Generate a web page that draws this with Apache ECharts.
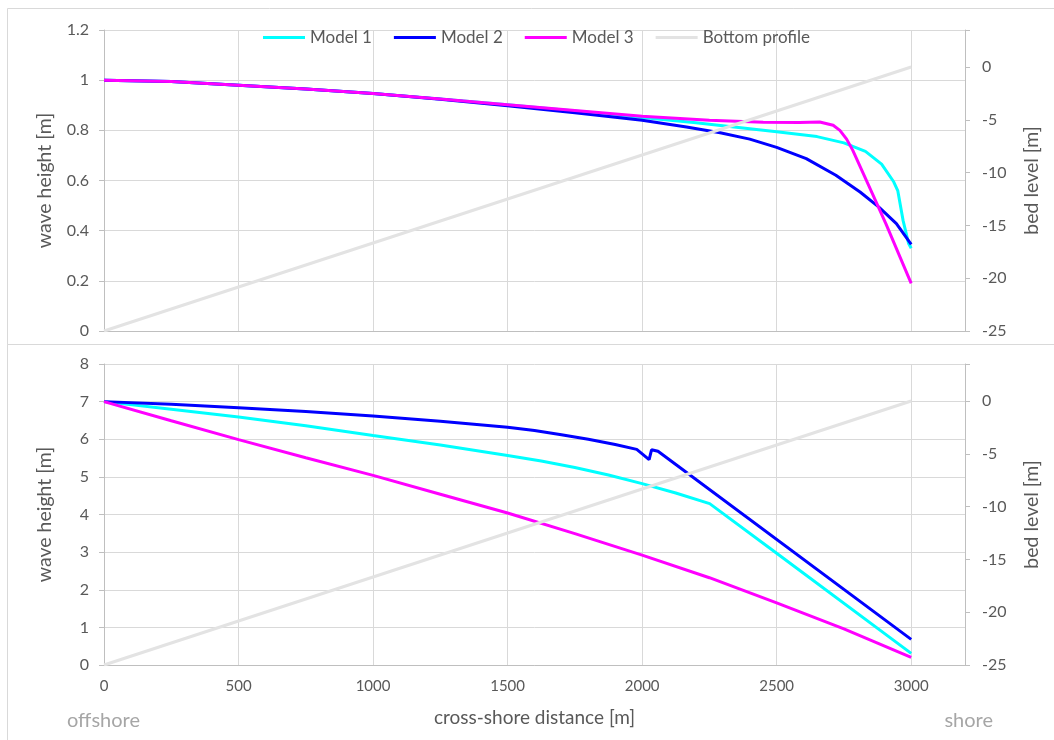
<!DOCTYPE html>
<html>
<head>
<meta charset="utf-8">
<script src="https://cdn.jsdelivr.net/npm/echarts@6/dist/echarts.min.js"></script>
<style>
html,body{margin:0;padding:0;background:#fff;}
#chart{width:1054px;height:740px;}
</style>
</head>
<body>
<div id="chart"></div>
<script>
// ---------- DATA ----------
const seriesNames = ['Model 1', 'Model 2', 'Model 3', 'Bottom profile'];
const xTicks = [0, 500, 1000, 1500, 2000, 2500, 3000];

// Top panel (wave height, m)
const topM1x = [0, 250, 500, 750, 1000, 1250, 1500, 1750, 2000, 2200, 2350, 2500, 2650, 2750, 2830, 2890, 2935, 2950, 2970, 2990, 3000];
const topM1y = [1.0, 0.995, 0.98, 0.965, 0.947, 0.925, 0.902, 0.877, 0.851, 0.83, 0.812, 0.794, 0.775, 0.75, 0.716, 0.665, 0.595, 0.56, 0.44, 0.35, 0.33];
const topM2x = [0, 250, 500, 750, 1000, 1250, 1500, 1750, 2000, 2165, 2290, 2400, 2500, 2610, 2720, 2810, 2880, 2945, 3000];
const topM2y = [1.0, 0.995, 0.98, 0.965, 0.947, 0.924, 0.898, 0.87, 0.84, 0.813, 0.79, 0.765, 0.732, 0.687, 0.621, 0.554, 0.494, 0.428, 0.345];
const topM3x = [0, 250, 500, 750, 1000, 1250, 1500, 1750, 2000, 2250, 2450, 2585, 2660, 2710, 2735, 2760, 2783, 2857, 2907, 3000];
const topM3y = [1.0, 0.995, 0.98, 0.965, 0.947, 0.925, 0.902, 0.879, 0.856, 0.84, 0.832, 0.831, 0.833, 0.82, 0.80, 0.765, 0.72, 0.545, 0.425, 0.19];

// Bottom panel (wave height, m)
const botM1x = [0, 250, 500, 750, 1000, 1250, 1500, 1625, 1750, 1875, 2000, 2125, 2251, 2500, 3000];
const botM1y = [7.0, 6.8, 6.59, 6.36, 6.10, 5.85, 5.57, 5.42, 5.25, 5.05, 4.82, 4.57, 4.29, 2.97, 0.31];
const botM2x = [0, 250, 500, 750, 1000, 1250, 1500, 1600, 1700, 1800, 1900, 1980, 2026, 2035, 2059, 3000];
const botM2y = [7.0, 6.93, 6.84, 6.74, 6.62, 6.48, 6.32, 6.23, 6.12, 6.0, 5.86, 5.73, 5.46, 5.72, 5.68, 0.68];
const botM3x = [0, 250, 500, 750, 1000, 1250, 1500, 1750, 2000, 2250, 2500, 2750, 3000];
const botM3y = [7.0, 6.49, 5.99, 5.51, 5.04, 4.54, 4.04, 3.49, 2.92, 2.32, 1.65, 0.96, 0.2];

// Bottom profile (bed level, m)
const profX = [0, 3000];
const profY = [-25, 0];

// ---------- CHART ----------
const zip = (xs, ys) => xs.map((x, i) => [x, ys[i]]);
const FONT = 'Lato';
const TXT = '#595959';
const GRID = '#d9d9d9';
const AXIS = '#bfbfbf';
const colors = {'Model 1': '#00ffff', 'Model 2': '#0000ff', 'Model 3': '#ff00ff', 'Bottom profile': '#e3e3e3'};

function xAxisCfg(gridIndex, showLabels) {
  return {
    type: 'value', gridIndex, min: 0, max: 3200, interval: 500,
    axisLine: {show: true, lineStyle: {color: AXIS, width: 1}},
    axisTick: {show: false},
    splitLine: {show: true, lineStyle: {color: GRID, width: 1}},
    axisLabel: {show: showLabels, color: TXT, fontFamily: FONT, fontSize: 15, margin: 14,
      formatter: v => xTicks.includes(v) ? String(v) : ''},
    name: showLabels ? 'cross-shore distance [m]' : '',
    nameLocation: 'middle', nameGap: 43,
    nameTextStyle: {color: TXT, fontFamily: FONT, fontSize: 19}
  };
}
function leftAxisCfg(gridIndex, max, interval, fmt) {
  return {
    type: 'value', gridIndex, position: 'left', min: 0, max, interval,
    axisLine: {show: true, onZero: false, lineStyle: {color: AXIS}},
    axisTick: {show: true, inside: false, length: 5, lineStyle: {color: AXIS}},
    splitLine: {show: true, lineStyle: {color: GRID, width: 1}},
    axisLabel: {color: TXT, fontFamily: FONT, fontSize: 16, margin: 15, formatter: fmt},
    name: 'wave height [m]', nameLocation: 'middle', nameGap: 49, nameRotate: 90,
    nameTextStyle: {color: TXT, fontFamily: FONT, fontSize: 19.5}
  };
}
function rightAxisCfg(gridIndex) {
  return {
    type: 'value', gridIndex, position: 'right', min: -25, max: 3.5, interval: 5,
    axisLine: {show: true, onZero: false, lineStyle: {color: AXIS}},
    axisTick: {show: true, inside: false, length: 5, lineStyle: {color: AXIS}},
    splitLine: {show: false},
    axisLabel: {color: TXT, fontFamily: FONT, fontSize: 16, margin: 17,
      formatter: v => (v % 5 === 0) ? String(v) : ''},
    name: 'bed level [m]', nameLocation: 'middle', nameGap: 57, nameRotate: 90,
    nameTextStyle: {color: TXT, fontFamily: FONT, fontSize: 19.5}
  };
}
function lineSeries(name, xi, yi, data, z) {
  return {
    name, type: 'line', xAxisIndex: xi, yAxisIndex: yi, data,
    showSymbol: false, symbol: 'none', smooth: false, z: z || 2,
    lineStyle: {color: colors[name], width: 3},
    itemStyle: {color: colors[name]},
    animation: false
  };
}

const chart = echarts.init(document.getElementById('chart'), null, {renderer: 'canvas'});
chart.setOption({
  backgroundColor: '#ffffff',
  animation: false,
  textStyle: {fontFamily: FONT},
  grid: [
    {left: 104, top: 30, width: 861, height: 301},
    {left: 104, top: 364, width: 861, height: 301}
  ],
  legend: {
    data: seriesNames, left: 263, top: 29, padding: 0, itemWidth: 42, itemHeight: 3, itemGap: 22,
    icon: 'rect', textStyle: {color: TXT, fontFamily: FONT, fontSize: 17}
  },
  xAxis: [xAxisCfg(0, false), xAxisCfg(1, true)],
  yAxis: [
    leftAxisCfg(0, 1.2, 0.2, v => String(+v.toFixed(1))),
    rightAxisCfg(0),
    leftAxisCfg(1, 8, 1, v => String(v)),
    rightAxisCfg(1)
  ],
  series: [
    lineSeries('Model 1', 0, 0, zip(topM1x, topM1y)),
    lineSeries('Model 2', 0, 0, zip(topM2x, topM2y)),
    lineSeries('Model 3', 0, 0, zip(topM3x, topM3y)),
    lineSeries('Bottom profile', 0, 1, zip(profX, profY), 3),
    lineSeries('Model 1', 1, 2, zip(botM1x, botM1y)),
    lineSeries('Model 2', 1, 2, zip(botM2x, botM2y)),
    lineSeries('Model 3', 1, 2, zip(botM3x, botM3y)),
    lineSeries('Bottom profile', 1, 3, zip(profX, profY), 3)
  ],
  graphic: [
    {type: 'rect', silent: true, z: -1, shape: {x: 7.5, y: 8.5, width: 1100, height: 336}, style: {fill: 'none', stroke: GRID, lineWidth: 1}},
    {type: 'rect', silent: true, z: -1, shape: {x: 7.5, y: 344.5, width: 1100, height: 500}, style: {fill: 'none', stroke: GRID, lineWidth: 1}},
    {type: 'text', left: 67, top: 711, style: {text: 'offshore', fill: '#a6a6a6', font: '20px Lato'}},
    {type: 'text', right: 61, top: 711, style: {text: 'shore', fill: '#a6a6a6', font: '20px Lato'}}
  ]
});
</script>
</body>
</html>
